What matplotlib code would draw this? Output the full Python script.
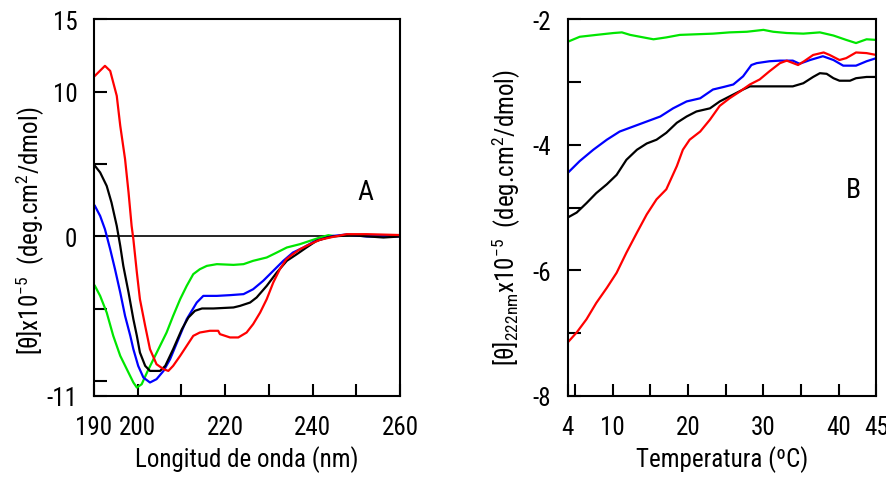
import matplotlib
matplotlib.use("Agg")
import matplotlib.pyplot as plt
import numpy as np

plt.rcParams['font.family'] = ['Roboto Condensed', 'DejaVu Sans']
plt.rcParams['mathtext.fontset'] = 'custom'
plt.rcParams['mathtext.rm'] = 'Roboto Condensed'
plt.rcParams['mathtext.default'] = 'regular'
plt.rcParams['axes.unicode_minus'] = False

# panel A: CD spectra, wavelength (nm) vs [theta] x10^-5
wl_red = [190.2, 192.5, 193.7, 195.2, 196, 197.1, 197.9, 198.6, 199, 199.8, 200.5, 201.7, 202.8,
          204.3, 205.9, 207, 208.1, 209.7, 211.2, 212.7, 214.2, 216.5, 218.4, 218.8, 221.1, 223,
          224.9, 226.4, 228, 229.5, 231, 232.5, 234, 235.5, 237.1, 239.4, 241.7, 244, 247.8, 252.4, 260]
th_red = [11.09, 11.78, 11.43, 9.71, 7.64, 5.34, 3.03, 0.73, -0.19, -2.49, -4.33, -6.17, -7.78,
          -8.82, -9.16, -9.28, -8.93, -8.24, -7.55, -6.86, -6.63, -6.51, -6.51, -6.74, -6.97, -6.97,
          -6.63, -6.05, -5.25, -4.33, -3.18, -2.26, -1.57, -1.22, -0.88, -0.53, -0.23, -0.07, 0.16, 0.16, 0.1]

wl_black = [190.2, 191.4, 192.9, 194, 195.2, 196, 196.7, 197.9, 199, 199.8, 200.5, 201.7, 202.8,
            205.1, 206.3, 208.1, 210.1, 211.6, 213.1, 214.7, 217.3, 221.9, 223.4, 225.7, 227.2,
            229.5, 231.8, 234.1, 236.4, 238.6, 240.9, 243.2, 244.7, 248.6, 256.2, 260]
th_black = [4.88, 4.42, 3.49, 2.34, 0.73, -0.65, -2.03, -3.87, -5.71, -6.86, -8.01, -8.93, -9.28,
            -9.28, -8.93, -7.78, -6.40, -5.59, -5.13, -4.97, -4.97, -4.90, -4.79, -4.56, -4.21,
            -3.41, -2.49, -1.68, -1.22, -0.76, -0.30, -0.09, 0.0, 0.09, -0.07, 0.0]

wl_blue = [190.2, 191.4, 192.5, 193.7, 194.8, 196, 197.1, 198.3, 199, 200.1, 201.3, 202.8, 204.3,
           205.9, 207.4, 209.3, 211.2, 213.5, 215, 218.1, 221.1, 224.2, 226.4, 228.7, 231, 233.3,
           235.5, 237.9, 240.2, 242.5, 244.7, 247.8, 252.4, 260]
th_blue = [2.11, 1.42, 0.50, -0.88, -2.26, -3.87, -5.48, -6.86, -7.78, -8.93, -9.74, -10.08, -9.85,
           -9.28, -8.47, -7.09, -5.71, -4.56, -4.10, -4.10, -4.05, -3.98, -3.64, -3.06, -2.37, -1.68,
           -1.11, -0.76, -0.37, -0.14, 0.04, 0.14, 0.0, 0.0]

wl_green = [190.2, 191.4, 192.9, 194.4, 196, 197.5, 199, 199.8, 200.9, 202.1, 203.6, 205.1, 206.6,
            208.1, 209.7, 211.2, 212.7, 214.2, 215.8, 218.1, 221.9, 224.2, 226.4, 229.5, 231.8,
            234.1, 237.1, 239.4, 241.7, 243.6, 244.7]
th_green = [-3.41, -4.10, -5.25, -6.86, -8.24, -9.16, -10.08, -10.43, -10.2, -9.4, -8.47, -7.55, -6.63,
            -5.48, -4.33, -3.41, -2.6, -2.26, -2.03, -1.91, -1.96, -1.91, -1.68, -1.45, -1.11,
            -0.76, -0.53, -0.30, -0.07, 0.09, 0.04]

# panel B: [theta]222 vs temperature
t_green = [4, 5.6, 7.8, 10.1, 11.2, 12.3, 14.5, 15.4, 17.1, 18.9, 21.1, 23.3, 25.5, 27.8, 30.0,
           31.3, 33.1, 35.3, 37.5, 39.3, 41.0, 42.3, 43.7, 45]
b_green = [-2.36, -2.28, -2.25, -2.22, -2.21, -2.25, -2.30, -2.32, -2.29, -2.25, -2.24, -2.23, -2.21,
           -2.20, -2.17, -2.20, -2.22, -2.23, -2.21, -2.26, -2.33, -2.38, -2.32, -2.33]

t_blue = [4, 5.6, 7.4, 9.2, 10.9, 12.7, 14.5, 16.3, 18.0, 19.8, 21.6, 23.3, 24.7, 26.0, 27.3, 28.4,
          29.1, 30.8, 32.2, 33.9, 34.8, 36.2, 37.9, 39.3, 40.6, 42.3, 43.7, 45]
b_blue = [-4.45, -4.26, -4.08, -3.92, -3.79, -3.71, -3.63, -3.55, -3.42, -3.31, -3.26, -3.12, -3.08,
          -3.04, -2.91, -2.73, -2.70, -2.67, -2.66, -2.66, -2.71, -2.65, -2.59, -2.65, -2.74, -2.74,
          -2.67, -2.62]

t_black = [4, 5.2, 6.5, 7.8, 9.2, 10.5, 11.8, 13.2, 14.5, 15.8, 17.1, 18.5, 19.8, 21.1, 22.9, 24.2,
           26.0, 27.3, 28.2, 30, 32.2, 33.9, 35.3, 36.6, 37.5, 38.4, 39.3, 40.1, 41.5, 42.3, 43.7, 45]
b_black = [-5.16, -5.08, -4.93, -4.77, -4.63, -4.48, -4.24, -4.08, -3.98, -3.92, -3.81, -3.65, -3.55,
           -3.47, -3.42, -3.31, -3.20, -3.12, -3.07, -3.07, -3.07, -3.07, -3.02, -2.92, -2.86, -2.87,
           -2.94, -2.98, -2.98, -2.94, -2.92, -2.92]

t_red = [4, 5.2, 6.5, 7.8, 9.2, 10.5, 11.8, 13.2, 14.5, 15.8, 17.1, 18.5, 19.3, 20.2, 21.6, 22.9,
         24.2, 25.5, 26.9, 28.2, 29.5, 30.8, 32.2, 33.1, 34.6, 35.4, 36.6, 38.0, 38.8, 40.1, 41.0,
         42.3, 43.7, 45]
b_red = [-7.15, -6.99, -6.78, -6.52, -6.28, -6.04, -5.72, -5.40, -5.11, -4.87, -4.71, -4.34, -4.08,
         -3.92, -3.79, -3.60, -3.38, -3.26, -3.15, -3.04, -2.96, -2.83, -2.70, -2.66, -2.73, -2.67,
         -2.57, -2.53, -2.57, -2.65, -2.62, -2.53, -2.54, -2.57]

RED, GREEN, BLUE, BLACK = '#ff0000', '#00e600', '#0000ff', '#000000'
fs = 18
lw = 1.6

fig = plt.figure(figsize=(8.87, 4.81), dpi=100)
axA = fig.add_axes([0.106, 0.175, 0.345, 0.783])
axB = fig.add_axes([0.640, 0.175, 0.348, 0.783])


def style(ax):
    for s in ax.spines.values():
        s.set_linewidth(1.5)
    ax.tick_params(which='both', direction='in', length=9, width=1.5,
                   labelsize=fs, top=False, right=False)
    ax.tick_params(axis='y', pad=12)
    ax.tick_params(axis='x', pad=14)


# --- A
axA.axhline(0, color='black', lw=1.2)
axA.plot(wl_green, th_green, color=GREEN, lw=lw)
axA.plot(wl_blue, th_blue, color=BLUE, lw=lw)
axA.plot(wl_black, th_black, color=BLACK, lw=lw)
axA.plot(wl_red, th_red, color=RED, lw=lw)
axA.set_xlim(190, 260)
axA.set_ylim(-11, 15)
axA.set_xticks([190, 200, 220, 240, 260])
axA.set_xticks([210, 230, 250], minor=True)
axA.set_yticks([-11, 0, 10, 15])
axA.set_yticks([-10, -5, 5], minor=True)
style(axA)
axA.set_xlabel('Longitud de onda (nm)', fontsize=fs, labelpad=4)
axA.set_ylabel(r'[θ]x10$^{-5}$  (deg.cm$^{2}$/dmol)', fontsize=fs)
axA.yaxis.set_label_coords(-0.155, 0.44)
axA.text(252, 3.1, 'A', fontsize=fs + 2, ha='center', va='center')

# --- B
axB.plot(t_green, b_green, color=GREEN, lw=lw)
axB.plot(t_blue, b_blue, color=BLUE, lw=lw)
axB.plot(t_black, b_black, color=BLACK, lw=lw)
axB.plot(t_red, b_red, color=RED, lw=lw)
axB.set_xlim(4, 45)
axB.set_ylim(-8, -2)
axB.set_xticks([4, 10, 20, 30, 40, 45])
axB.set_xticks([5, 15, 25, 35], minor=True)
axB.set_yticks([-8, -6, -4, -2])
axB.set_yticks([-7, -5, -3], minor=True)
style(axB)
axB.set_xlabel('Temperatura (ºC)', fontsize=fs, labelpad=4)
axB.set_ylabel(r'[θ]$_{222nm}$x10$^{-5}$  (deg.cm$^{2}$/dmol)', fontsize=fs)
axB.yaxis.set_label_coords(-0.145, 0.477)
axB.text(41.9, -4.71, 'B', fontsize=fs + 2, ha='center', va='center')

fig.savefig('out.png', dpi=100)
